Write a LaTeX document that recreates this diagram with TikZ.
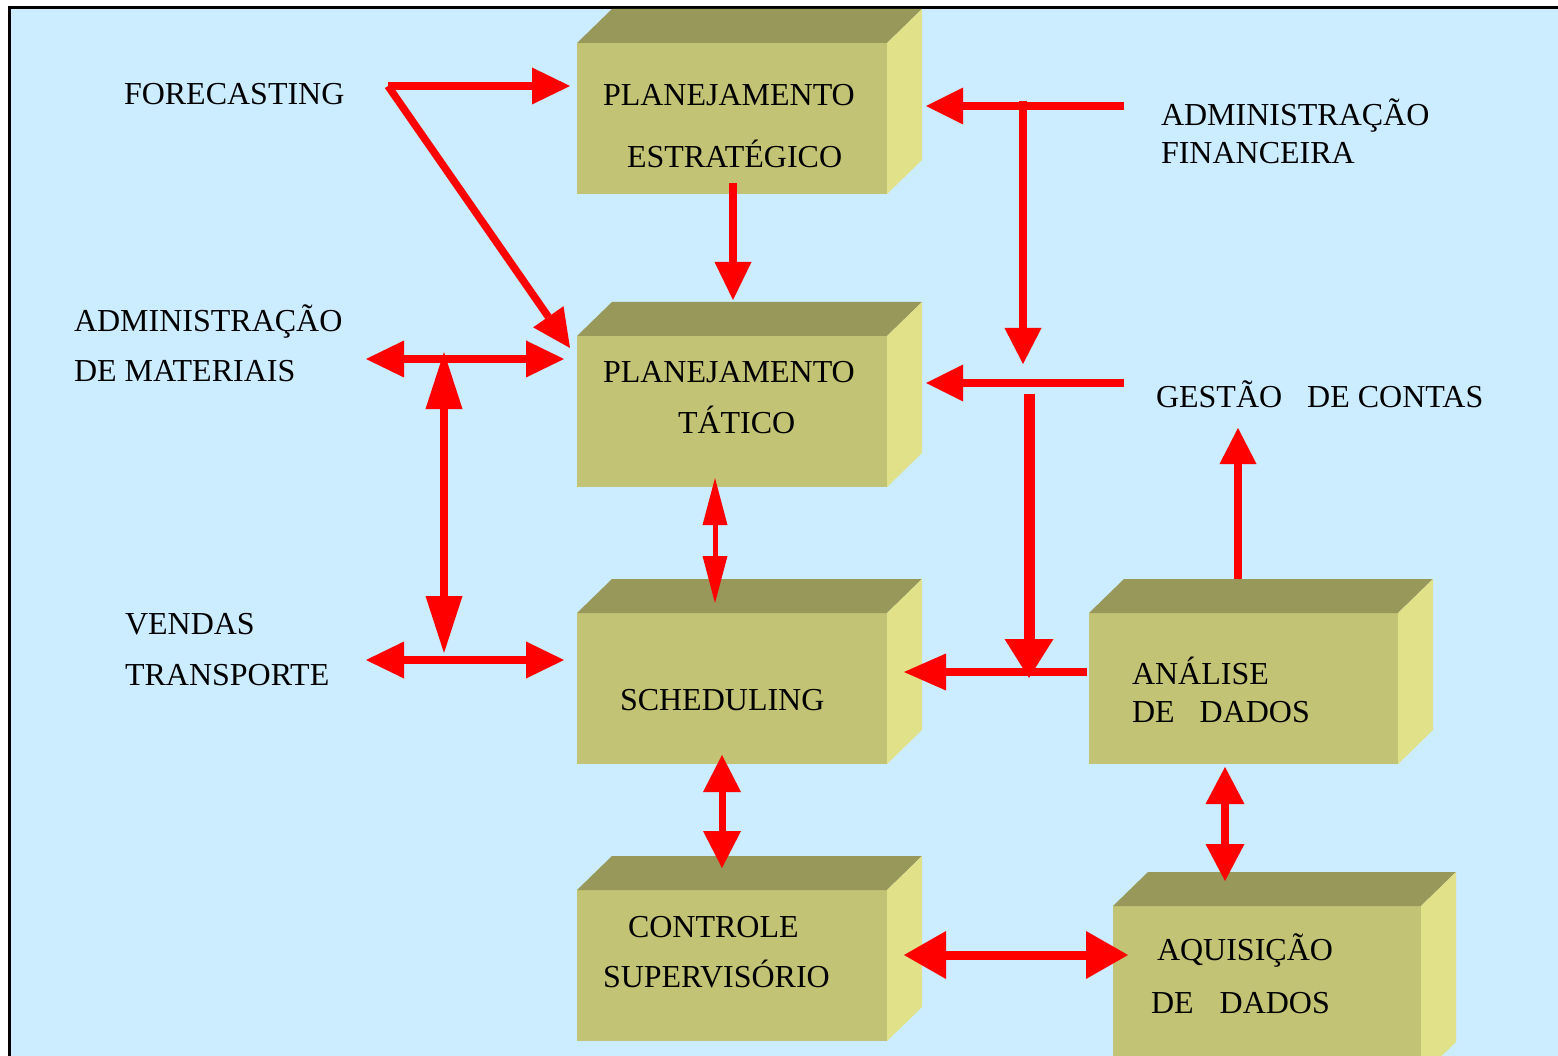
\documentclass[tikz,border=0pt]{standalone}
\usepackage{fontspec}
\setmainfont{Liberation Serif}
\usetikzlibrary{arrows.meta}

\definecolor{panelbg}{RGB}{204,236,255}
\definecolor{bxfront}{RGB}{195,195,117}
\definecolor{bxtop}{RGB}{152,152,90}
\definecolor{bxside}{RGB}{225,225,137}
\definecolor{flowred}{RGB}{255,0,0}

% top and side faces of a solid block whose front face is node #1
\newcommand\blockfaces[1]{%
  \fill[bxtop] (#1.north west) -- ([shift={(35,-34)}]#1.north west)
     -- ([shift={(35,-34)}]#1.north east) -- (#1.north east) -- cycle;
  \fill[bxside] (#1.north east) -- ([shift={(35,-34)}]#1.north east)
     -- ([shift={(35,-34)}]#1.south east) -- (#1.south east) -- cycle;
}

\begin{document}
\begin{tikzpicture}[x=1pt,y=-1pt,
  lbl/.style={anchor=base west, inner sep=0pt, outer sep=0pt,
              font=\fontsize{32}{38}\selectfont},
  frontface/.style={fill=bxfront, anchor=north west, inner sep=0pt, outer sep=0pt,
              minimum width=310pt, minimum height=151pt},
  flow/.style={draw=flowred, line width=7.5pt},
  onehead/.style 2 args={-{Triangle[length=#1,width=#2,line width=0pt]}},
  twoheads/.style 2 args={{Triangle[length=#1,width=#2,line width=0pt]}-{Triangle[length=#1,width=#2,line width=0pt]}}
]
\useasboundingbox (0,0) rectangle (1558,1056);
\begin{scope}
\clip (0,0) rectangle (1558,1056);
\fill[white] (0,0) rectangle (1558,1056);
\fill[panelbg] (9.5,7.5) rectangle (1620,1120);
\draw[line width=3pt] (9.5,1120) -- (9.5,7.5) -- (1620,7.5);

% blocks
\node[frontface] (pe) at (577,43) {};
\blockfaces{pe}
\node[frontface] (pt) at (577,336) {};
\blockfaces{pt}
\node[frontface] (sc) at (577,613) {};
\blockfaces{sc}
\node[frontface] (cs) at (577,890) {};
\blockfaces{cs}
\node[frontface, minimum width=309pt] (ad) at (1089,613) {};
\blockfaces{ad}
\node[frontface, minimum width=308pt, minimum height=170pt] (aq) at (1113,906) {};
\blockfaces{aq}

% texts
\node[lbl] (fc) at (124,105) {FORECASTING};
\node[lbl] (pe1) at (603,106) {PLANEJAMENTO};
\node[lbl] (pe2) at (627,168) {ESTRATÉGICO};
\node[lbl] (af1) at (1161,126) {ADMINISTRAÇÃO};
\node[lbl] (af2) at (1161,164) {FINANCEIRA};
\node[lbl] (am1) at (74,332) {ADMINISTRAÇÃO};
\node[lbl] (am2) at (74,382) {DE MATERIAIS};
\node[lbl] (pt1) at (603,383) {PLANEJAMENTO};
\node[lbl] (pt2) at (678,433) {TÁTICO};
\node[lbl] (gc) at (1156,407) {GESTÃO\hspace{25pt}DE CONTAS};
\node[lbl] (vt1) at (125,634) {VENDAS};
\node[lbl] (vt2) at (125,685) {TRANSPORTE};
\node[lbl] (sc1) at (620,710) {SCHEDULING};
\node[lbl] (ad1) at (1132,684) {ANÁLISE};
\node[lbl] (ad2) at (1132,722) {DE\hspace{25pt}DADOS};
\node[lbl] (cs1) at (628,937) {CONTROLE};
\node[lbl] (cs2) at (603,987) {SUPERVISÓRIO};
\node[lbl] (aq1) at (1157,960) {AQUISIÇÃO};
\node[lbl] (aq2) at (1151,1013) {DE\hspace{26pt}DADOS};

% connector end points
\coordinate (fcK) at (388,86);
\coordinate (fcA) at (570,86);
\coordinate (fcB) at (570,348);
\coordinate (peOut) at (733,183);
\coordinate (ptIn) at (733,300);
\coordinate (afR) at (1124,106);
\coordinate (afL) at (926,106);
\coordinate (afV1) at (1023,101);
\coordinate (afV2) at (1023,364);
\coordinate (gcR) at (1124,383);
\coordinate (gcL) at (926,383);
\coordinate (gcV1) at (1029,394);
\coordinate (gcV2) at (1029,678);
\coordinate (adL) at (1087,672);
\coordinate (scR) at (904,672);
\coordinate (adTop) at (1238,579);
\coordinate (gcBot) at (1238,428);
\coordinate (amL) at (366,359);
\coordinate (amR) at (564,359);
\coordinate (vmT) at (444,352);
\coordinate (vmB) at (444,653);
\coordinate (vtL) at (366,660);
\coordinate (vtR) at (564,660);
\coordinate (ptB) at (715,478);
\coordinate (scT) at (715,603);
\coordinate (scB) at (722,755);
\coordinate (csT) at (722,868);
\coordinate (csR) at (904,955);
\coordinate (aqL) at (1128,955);
\coordinate (adB) at (1225,767);
\coordinate (aqT) at (1225,881);

% connectors
\draw[flow, onehead={38pt}{37pt}] (fcK) -- (fcA);
\draw[flow, onehead={38pt}{37pt}] (fcK) -- (fcB);
\draw[flow, onehead={38pt}{37pt}] (peOut) -- (ptIn);
\draw[flow, onehead={37pt}{37pt}] (afR) -- (afL);
\draw[flow, onehead={36pt}{37pt}] (afV1) -- (afV2);
\draw[flow, onehead={37pt}{37pt}] (gcR) -- (gcL);
\draw[flow, line width=11pt, onehead={39pt}{49pt}] (gcV1) -- (gcV2);
\draw[flow, onehead={42pt}{37pt}] (adL) -- (scR);
\draw[flow, onehead={36pt}{37pt}] (adTop) -- (gcBot);
\draw[flow, twoheads={38pt}{37pt}] (amL) -- (amR);
\draw[flow, line width=8pt, twoheads={57pt}{37pt}] (vmT) -- (vmB);
\draw[flow, twoheads={38pt}{37pt}] (vtL) -- (vtR);
\draw[flow, line width=5pt, twoheads={47pt}{25pt}] (ptB) -- (scT);
\draw[flow, line width=7pt, twoheads={37pt}{38pt}] (scB) -- (csT);
\draw[flow, line width=9pt, twoheads={42pt}{48pt}] (csR) -- (aqL);
\draw[flow, line width=8pt, twoheads={37pt}{39pt}] (adB) -- (aqT);
\end{scope}
\end{tikzpicture}
\end{document}
